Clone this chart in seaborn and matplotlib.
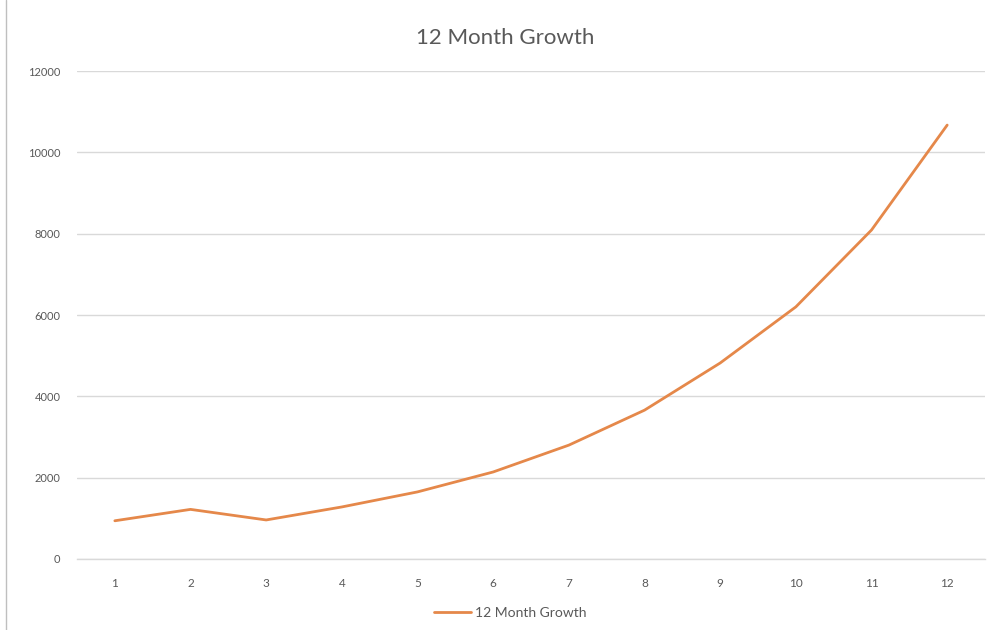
import matplotlib
matplotlib.use("Agg")
import matplotlib.pyplot as plt
from matplotlib.lines import Line2D
import seaborn as sns
import pandas as pd

months = [1, 2, 3, 4, 5, 6, 7, 8, 9, 10, 11, 12]
growth = [940, 1220, 960, 1280, 1650, 2140, 2800, 3660, 4820, 6200, 8090, 10670]
y_ticks = [0, 2000, 4000, 6000, 8000, 10000, 12000]
series_name = "12 Month Growth"
title_text = "12 Month Growth"

df = pd.DataFrame({"month": months, "value": growth})

sns.set_theme(style="white")
plt.rcParams["font.family"] = ["Lato", "DejaVu Sans"]

text_gray = "#595959"
grid_gray = "#D9D9D9"
line_orange = "#E5884A"

fig = plt.figure(figsize=(10.04, 6.30), dpi=100)
fig.patch.set_facecolor("white")
ax = fig.add_axes([0.0767, 0.1127, 0.9044, 0.7746])

sns.lineplot(data=df, x="month", y="value", ax=ax, color=line_orange,
             linewidth=2.0, legend=False)

ax.set_xlim(0.5, 12.5)
ax.set_ylim(0, 12000)
ax.set_xticks(months)
ax.set_xticklabels([str(m) for m in months])
ax.set_yticks(y_ticks)
ax.set_yticklabels([str(v) for v in y_ticks])
ax.yaxis.grid(True, color=grid_gray, linewidth=1.0)
ax.xaxis.grid(False)
ax.set_axisbelow(True)
for side in ["top", "right", "left"]:
    ax.spines[side].set_visible(False)
ax.spines["bottom"].set_color(grid_gray)
ax.spines["bottom"].set_linewidth(1.0)
ax.tick_params(axis="x", length=0, pad=14, labelsize=8.5, labelcolor=text_gray)
ax.tick_params(axis="y", length=0, pad=12, labelsize=8, labelcolor=text_gray)
ax.set_xlabel("")
ax.set_ylabel("")

fig.text(0.503, 0.940, title_text, ha="center", va="center",
         fontsize=16, color=text_gray)

handle = Line2D([0], [0], color=line_orange, linewidth=2.0)
fig.legend([handle], [series_name], loc="center", bbox_to_anchor=(0.508, 0.027),
           frameon=False, fontsize=10, labelcolor=text_gray, handlelength=2.7,
           handletextpad=0.25)

# thin frame line along the left edge of the chart area
fig.add_artist(Line2D([0.006, 0.006], [0.0, 1.0], transform=fig.transFigure,
                      color="#BFBFBF", linewidth=1.0))

fig.savefig("out.png", dpi=100)
